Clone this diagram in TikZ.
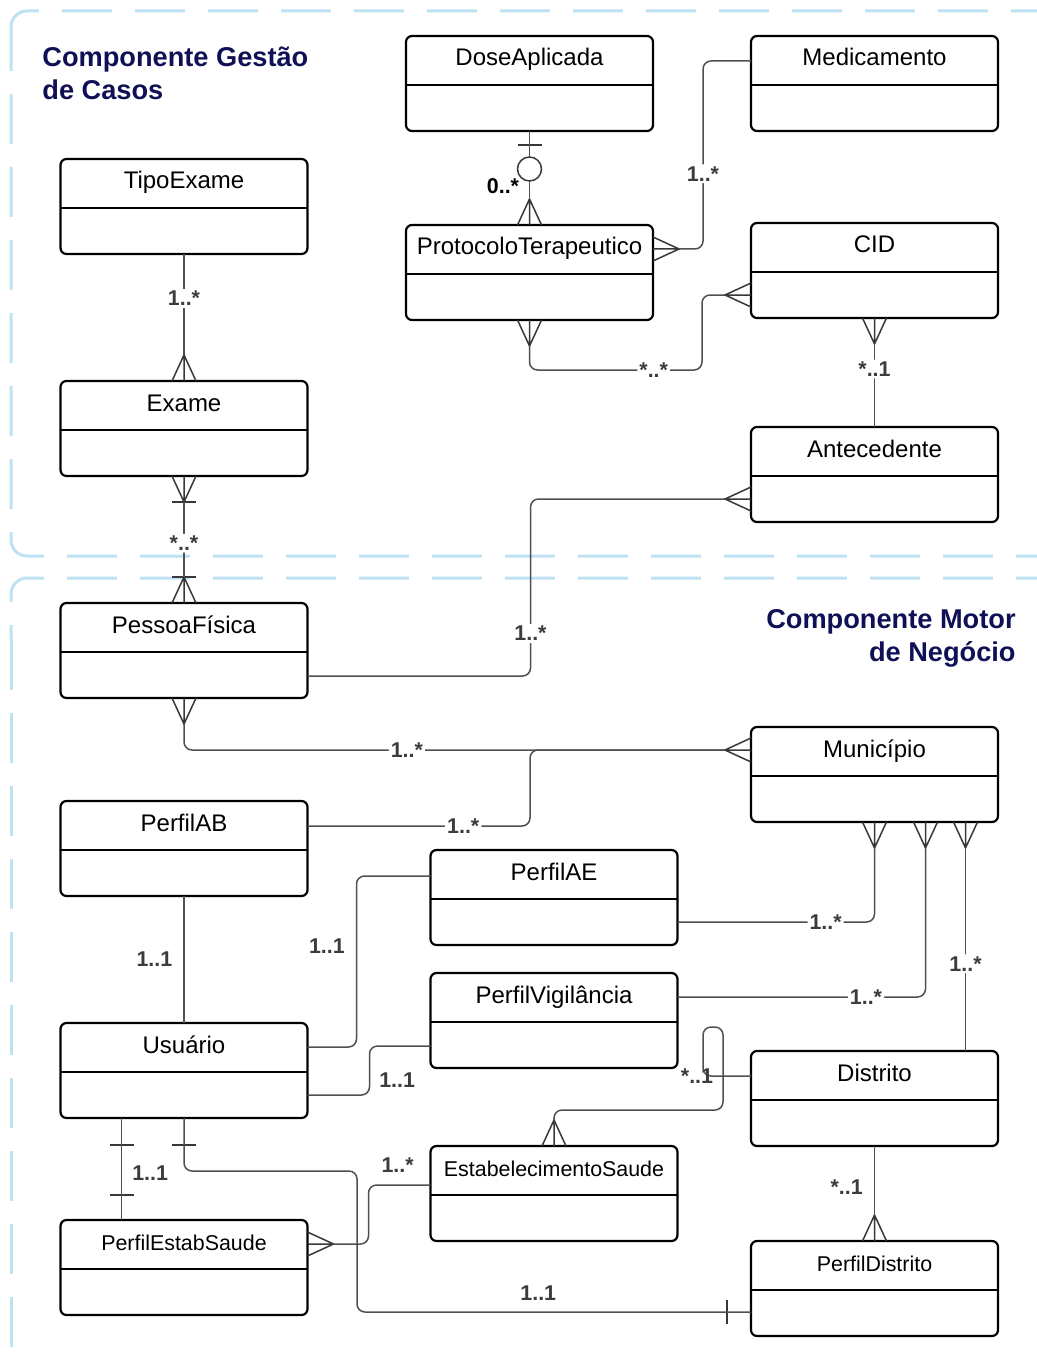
\documentclass[tikz,border=0pt]{standalone}
\usepackage{fontspec}
\setmainfont{Liberation Sans}
\usetikzlibrary{calc, positioning}
\definecolor{framebl}{RGB}{190, 226, 244}
\definecolor{titlenavy}{RGB}{16, 16, 86}
\definecolor{linkgray}{RGB}{80, 80, 80}
\definecolor{lblgray}{RGB}{60, 60, 60}

\tikzset{
  klass/.style={draw, line width=1.1pt, rounded corners=3pt, fill=white,
    minimum width=123.5pt, inner ysep=0pt, outer sep=0pt,
    text height=15pt, text depth=32.5pt, font=\fontsize{12}{14}\selectfont,
    path picture={\draw[line width=1.1pt]
      ([yshift=-24.5pt]path picture bounding box.north west) --
      ([yshift=-24.5pt]path picture bounding box.north east);}},
  klasssm/.style={klass, font=\fontsize{10.7}{13}\selectfont},
  conn/.style={draw=linkgray, line width=0.75pt, rounded corners=4pt},
  foot/.style={draw=linkgray!70!black, line width=0.75pt},
  lbl/.style={fill=white, inner sep=1pt, text=lblgray, font=\bfseries\fontsize{10.7}{12}\selectfont},
  lblfree/.style={lbl, fill=none},
  optc/.style={circle, draw=linkgray!70!black, line width=0.75pt, minimum size=12pt, inner sep=0pt},
  ptitle/.style={inner sep=0pt, text=titlenavy, font=\bfseries\fontsize{13.6}{16.5}\selectfont},
  frame/.style={draw=framebl, line width=1.5pt, dash pattern=on 25pt off 11.5pt, rounded corners=8pt},
  crow/.pic={\draw[foot] (0,-12) -- (26,0) -- (0,12) (0,0) -- (26,0);},
  bar/.pic={\draw[foot] (0,-12) -- (0,12);}
}

\begin{document}
\begin{tikzpicture}[x=0.5pt, y=-0.5pt]
  \useasboundingbox (0,0) rectangle (1037,1364);

  % component frames
  \draw[frame] (11,40) -- (11,11) -- (1100,11);
  \draw[frame, dash phase=9.5pt] (11,40) -- (11,556) -- (1100,556);
  \draw[frame, dash phase=17.5pt] (11,640) -- (11,578) -- (1100,578);
  \draw[frame] (11,640) -- (11,1420);

  \node[ptitle, anchor=north west, align=left] (gestaotitle) at (42,46) {Componente Gestão\\de Casos};
  \node[ptitle, anchor=north east, align=right] (motortitle) at (1016,609) {Componente Motor\\de Negócio};

  % classes
  \node[klass] (dose) at (529.5,83.5) {DoseAplicada};
  \node[klass] (medic) at (874.5,83.5) {Medicamento};
  \node[klass] (tipo) at (184,206.5) {TipoExame};
  \node[klass] (proto) at (529.5,272.5) {ProtocoloTerapeutico};
  \node[klass] (cid) at (874.5,270.5) {CID};
  \node[klass] (exame) at (184,428.5) {Exame};
  \node[klass] (antec) at (874.5,474.5) {Antecedente};
  \node[klass] (pessoa) at (184,650.5) {PessoaFísica};
  \node[klass] (munic) at (874.5,774.5) {Município};
  \node[klass] (perfilab) at (184,848.5) {PerfilAB};
  \node[klass] (perfilae) at (554,897.5) {PerfilAE};
  \node[klass] (perfilvig) at (554,1020.5) {PerfilVigilância};
  \node[klass] (usuario) at (184,1070.5) {Usuário};
  \node[klass] (distrito) at (874.5,1098.5) {Distrito};
  \node[klasssm] (estab) at (554,1193.5) {EstabelecimentoSaude};
  \node[klasssm] (perfilestab) at (184,1267.5) {PerfilEstabSaude};
  \node[klasssm] (perfildist) at (874.5,1288.5) {PerfilDistrito};

  % gestao de casos
  \pic[rotate=90] at (exame.north) {crow};
  \draw[conn] (tipo.south) -- ($(exame.north)+(0,-26)$) node[lbl, pos=0.44] {1..*};

  \pic[rotate=-90] at (exame.south) {crow};
  \pic[rotate=-90] at ($(exame.south)+(0,26)$) {bar};
  \pic[rotate=90] at (pessoa.north) {crow};
  \pic[rotate=90] at ($(pessoa.north)+(0,-26)$) {bar};
  \draw[conn] ($(exame.south)+(0,26)$) -- ($(pessoa.north)+(0,-26)$) node[lbl, pos=0.55] {*..*};

  \pic[rotate=-90] at ($(dose.south)+(0,14)$) {bar};
  \node[optc] (dosecirc) at (529.5,169) {};
  \draw[conn] (dose.south) -- (dosecirc.north);
  \pic[rotate=90] at (proto.north) {crow};
  \draw[conn] (dosecirc.south) -- ($(proto.north)+(0,-26)$);
  \node[lblfree, text=black] (dosemult) at (503,186) {0..*};

  \pic at ($(proto.north east)+(0,24)$) {crow};
  \draw[conn] ($(proto.north east)+(26,24)$) -| node[lbl, pos=0.7] {1..*} ($(medic.north west)+(-48,25)$) -- ($(medic.north west)+(0,25)$);

  \pic[rotate=-90] at (proto.south) {crow};
  \pic[rotate=180] at ($(cid.north west)+(0,72)$) {crow};
  \draw[conn] ($(proto.south)+(0,26)$) -- ++(0,24) -| node[lbl, pos=0.36] {*..*} ($(cid.north west)+(-49,72)$) -- ($(cid.north west)+(-26,72)$);

  \pic[rotate=-90] at (cid.south) {crow};
  \draw[conn] ($(cid.south)+(0,26)$) -- (antec.north) node[lbl, pos=0.3] {*..1};

  \pic[rotate=180] at ($(antec.north west)+(0,72)$) {crow};
  \draw[conn] ($(antec.north west)+(-26,72)$) -| node[lbl, pos=0.88] {1..*} ($(pessoa.north east)+(223,73)$) -- ($(pessoa.north east)+(0,73)$);

  % motor de negocio
  \pic[rotate=-90] at (pessoa.south) {crow};
  \pic[rotate=180] at ($(munic.north west)+(0,23)$) {crow};
  \draw[conn] ($(pessoa.south)+(0,26)$) |- node[lbl, pos=0.706] {1..*} ($(munic.north west)+(-26,23)$);
  \draw[conn] ($(perfilab.north east)+(0,25)$) -| node[lbl, pos=0.35] {1..*} ($(munic.north west)+(-221,23)$) -- ($(munic.north west)+(-26,23)$);

  \pic[rotate=-90] at (munic.south) {crow};
  \draw[conn] ($(munic.south)+(0,26)$) |- node[lbl, pos=0.624] {1..*} ($(perfilae.north east)+(0,72)$);
  \pic[rotate=-90] at ($(munic.south)+(51,0)$) {crow};
  \draw[conn] ($(munic.south)+(51,26)$) |- node[lbl, pos=0.62] {1..*} ($(perfilvig.north east)+(0,24)$);
  \pic[rotate=-90] at ($(munic.south)+(91,0)$) {crow};
  \draw[conn] ($(munic.south)+(91,26)$) -- ($(distrito.north)+(91,0)$) node[lbl, pos=0.57] {1..*};

  \draw[conn] (perfilab.south) -- (usuario.north) node[lblfree, midway, left=4.5pt] {1..1};
  \draw[conn] ($(usuario.north east)+(0,24)$) -| node[lblfree, pos=0.795, left=4.5pt] {1..1} ($(perfilae.north west)+(-74,26)$) -- ($(perfilae.north west)+(0,26)$);
  \draw[conn] ($(usuario.north east)+(0,72)$) -| node[lblfree, pos=0.65, right=3.5pt] {1..1} ($(perfilvig.north west)+(-61,73)$) -- ($(perfilvig.north west)+(0,73)$);

  \pic[rotate=90] at (estab.north) {crow};
  \draw[conn] ($(distrito.north west)+(0,25)$) -- ++(-48,0) node[lblfree, pos=1, xshift=-3pt] {*..1} -- ++(0,-49) -- ++(20,0) -- ++(0,83) -| ($(estab.north)+(0,-26)$);

  \pic[rotate=90] at (perfildist.north) {crow};
  \draw[conn] (distrito.south) -- ($(perfildist.north)+(0,-26)$) node[lblfree, pos=0.6, left=4.5pt] {*..1};

  \pic[rotate=-90] at ($(usuario.south west)+(61,27)$) {bar};
  \pic[rotate=-90] at ($(perfilestab.north west)+(61,-25)$) {bar};
  \draw[conn] ($(usuario.south west)+(61,0)$) -- ($(perfilestab.north west)+(61,0)$) node[lblfree, pos=0.54, right=4pt] {1..1};

  \pic[rotate=-90] at ($(usuario.south)+(0,27)$) {bar};
  \pic at ($(perfildist.north west)+(-24,71)$) {bar};
  \draw[conn] (usuario.south) -- ++(0,53) -| ($(perfildist.north west)+(-394,71)$) -- node[lblfree, pos=0.46, above=4.5pt] {1..1} ($(perfildist.north west)+(0,71)$);

  \pic at ($(perfilestab.north east)+(0,24)$) {crow};
  \draw[conn] ($(perfilestab.north east)+(26,24)$) -| ($(estab.north west)+(-62,39)$) -- node[lblfree, pos=0.47, above=5pt] {1..*} ($(estab.north west)+(0,39)$);
\end{tikzpicture}
\end{document}
